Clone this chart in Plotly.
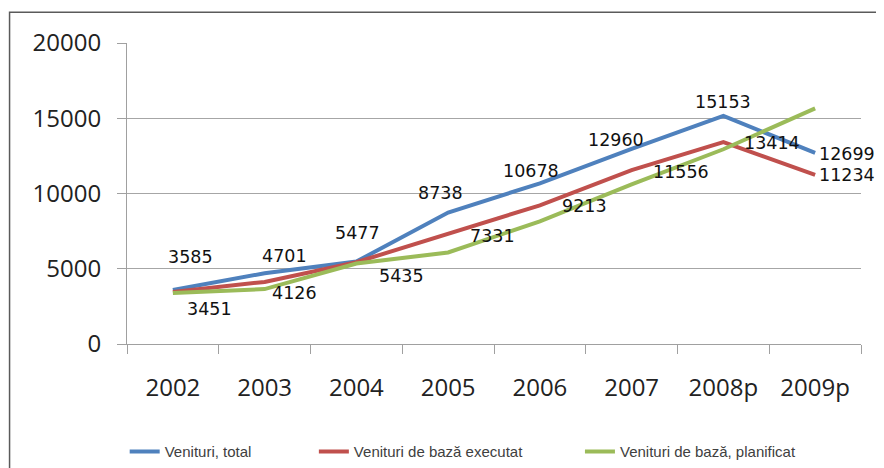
import plotly.graph_objects as go

years = ["2002", "2003", "2004", "2005", "2006", "2007", "2008p", "2009p"]
total = [3585, 4701, 5477, 8738, 10678, 12960, 15153, 12699]
baza_executat = [3451, 4126, 5435, 7331, 9213, 11556, 13414, 11234]
baza_planificat = [3390, 3650, 5350, 6080, 8150, 10600, 12940, 15660]

names = ["Venituri, total", "Venituri de bază executat", "Venituri de bază, planificat"]
colors = ["#4F81BD", "#C0504D", "#9BBB59"]

# label offsets (px)
total_shift = [(18, 33), (20, 17), (1, 29), (-8, 19), (-9, 12), (-16, 9), (0, 14), (2, -1)]
exec_shift = [(37, -17), (30, -11), (45, -14), (44, -2), (45, -1), (49, -2), (49, -1), (2, 0)]

fig = go.Figure()
for i, (vals, name) in enumerate(zip([total, baza_executat, baza_planificat], names)):
    fig.add_trace(go.Scatter(
        x=years, y=vals, mode="lines", name=name,
        line=dict(color=colors[i], width=4),
        legend="legend" if i == 0 else "legend%d" % (i + 1),
        showlegend=True,
    ))

label_font = dict(family="DejaVu Sans", size=17.5, color="#111111")
annotations = []
for vals, shifts in [(total, total_shift), (baza_executat, exec_shift)]:
    for j, v in enumerate(vals):
        dx, dy = shifts[j]
        annotations.append(dict(
            x=j, y=v, xref="x", yref="y", text=str(v), showarrow=False,
            xanchor="left" if j == len(vals) - 1 else "center",
            yanchor="middle", xshift=dx, yshift=dy, font=label_font,
        ))

# the page body adds 8px on the left and top, margins are set for that
legend_common = dict(
    orientation="h", yanchor="middle", xanchor="left",
    xref="container", yref="container", y=0.052,
    font=dict(family="Liberation Sans", size=15, color="#404040"),
    bgcolor="rgba(0,0,0,0)", itemwidth=30,
)
fig.update_layout(
    width=884, height=468,
    margin=dict(l=119, r=31, t=35, b=132),
    paper_bgcolor="white", plot_bgcolor="white",
    showlegend=True,
    annotations=annotations,
    legend=dict(x=0.132, **legend_common),
    legend2=dict(x=0.346, **legend_common),
    legend3=dict(x=0.647, **legend_common),
    shapes=[dict(type="rect", xref="paper", yref="paper",
                 x0=-0.16, x1=1.0286, y0=-0.45, y1=1.102,
                 line=dict(color="#5a5a5a", width=1.5))],
)
fig.update_xaxes(
    type="category", range=[-0.5, 7.5], automargin=False,
    showline=True, linecolor="#a0a0a0", linewidth=1,
    ticks="outside", tickson="boundaries", ticklen=9, tickcolor="#a0a0a0",
    showgrid=False, ticklabelstandoff=22,
    tickfont=dict(family="Open Sans", size=24, color="#222222"),
)
fig.update_yaxes(
    range=[0, 20000], tickvals=[0, 5000, 10000, 15000, 20000], tickformat="d",
    automargin=False,
    showgrid=True, gridcolor="#a6a6a6", gridwidth=1,
    showline=True, linecolor="#a0a0a0", linewidth=1,
    ticks="outside", ticklen=9, tickcolor="#a0a0a0",
    ticklabelstandoff=11, zeroline=False,
    tickfont=dict(family="Open Sans", size=24, color="#222222"),
)

fig.write_html("out.html")
